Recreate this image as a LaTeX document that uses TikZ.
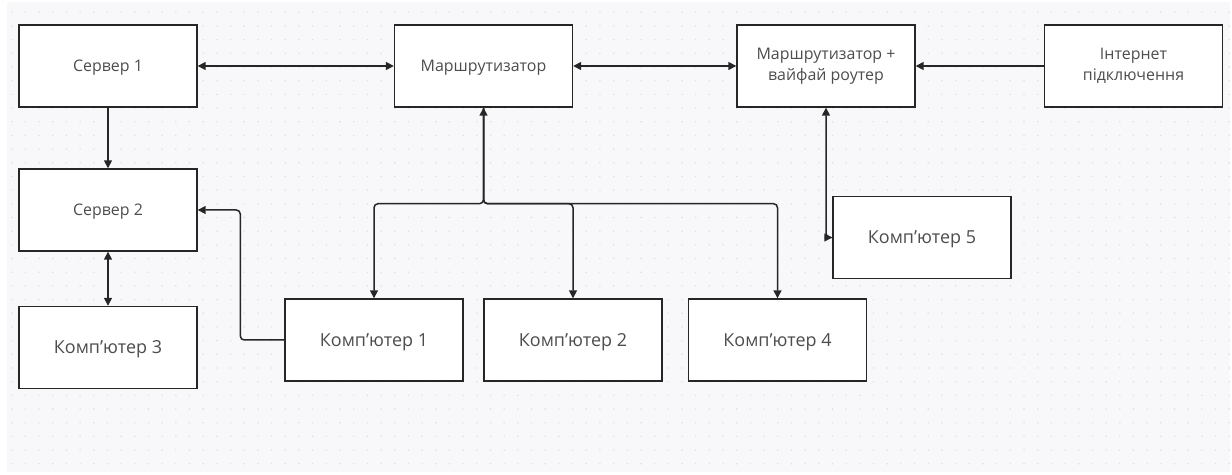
\documentclass[tikz,border=0pt]{standalone}
\usepackage{fontspec}
\setmainfont{Open Sans}
\usetikzlibrary{arrows.meta,calc}
\definecolor{canvas}{HTML}{F8F8FA}
\definecolor{griddot}{HTML}{DEDEE2}
\definecolor{edge}{HTML}{262626}
\definecolor{label}{HTML}{4D4D4D}
\tikzset{
  box/.style={draw=edge, fill=white, line width=1.4bp, minimum width=178bp,
    minimum height=82bp, inner sep=0pt, align=center, text=label,
    font=\fontsize{16}{21}\selectfont},
  onebox/.style={box, text depth=0pt},
  pcbox/.style={onebox, font=\fontsize{18}{22}\selectfont},
  link/.style={draw=edge, line width=1.5bp, rounded corners=4bp,
    arrows={-Triangle[length=8bp,width=8bp]}},
  both/.style={link, arrows={Triangle[length=8bp,width=8bp]-Triangle[length=8bp,width=8bp]}},
}
\begin{document}
\begin{tikzpicture}[x=1bp,y=-1bp]
  \useasboundingbox (0,0) rectangle (1232,475);
  % dotted canvas
  \fill[canvas] (7,2) rectangle (1230,472);
  \foreach \i in {0,...,89}{
    \foreach \j in {0,...,33}{
      \fill[griddot] ({11.7+13.68*\i},{12.3+13.68*\j}) circle (0.8bp);
    }
  }

  % top row
  \node[onebox] (s1)   at (108,66)    {Сервер 1};
  \node[onebox] (rt)   at (483.5,66)  {Маршрутизатор};
  \node[box] (wifi) at (826,66)    {Маршрутизатор +\\вайфай роутер};
  \node[box] (inet) at (1133.5,66) {Інтернет\\підключення};

  % left column
  \node[onebox] (s2) at (108,210)   {Сервер 2};
  \node[pcbox]  (k3) at (108,347.5) {Комп’ютер 3};

  % computers on the router
  \node[pcbox] (k1) at (374,340)   {Комп’ютер 1};
  \node[pcbox] (k2) at (573,340)   {Комп’ютер 2};
  \node[pcbox] (k4) at (777.5,340) {Комп’ютер 4};
  \node[pcbox] (k5) at (922,237.5) {Комп’ютер 5};

  % connectors
  \draw[both] (s1) -- (rt);
  \draw[both] (rt) -- (wifi);
  \draw[link] (inet) -- (wifi);
  \draw[link] (s1) -- (s2);
  \draw[both] (s2) -- (k3);
  \draw[link] (k1.west) -- ++(-44,0) |- (s2.east);
  \coordinate (fork) at ($(rt.south)+(0,96)$);
  \draw[both] (rt.south) -- (fork) -| (k1.north);
  \draw[link] (rt.south) -- (fork) -| (k2.north);
  \draw[link] (rt.south) -- (fork) -| (k4.north);
  \draw[both] (wifi.south) |- (k5.west);
\end{tikzpicture}
\end{document}
